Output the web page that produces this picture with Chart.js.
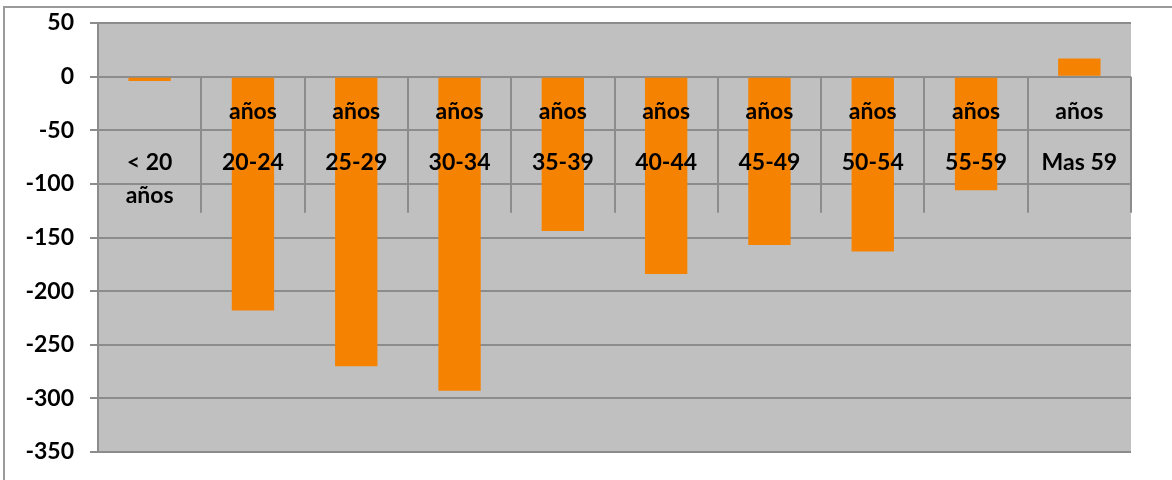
<!DOCTYPE html>
<html>
<head>
<meta charset="utf-8">
<script src="https://cdn.jsdelivr.net/npm/chart.js@4"></script>
<style>
  html, body { margin: 0; padding: 0; background: #fff; }
  #wrap { width: 1172px; height: 480px; position: relative; }
</style>
</head>
<body>
<div id="wrap"><canvas id="chart" width="1172" height="480"></canvas></div>
<script>
// datos
const ranges = ["< 20", "20-24", "25-29", "30-34", "35-39", "40-44", "45-49", "50-54", "55-59", "Mas 59"];
const suffix = "años";
const values = [-4, -218, -270, -293, -144, -184, -157, -163, -106, 17];
const yTicks = [50, 0, -50, -100, -150, -200, -250, -300, -350];

const gridColor = "#8c8c8c";
const font = "bold 23px Lato, 'Open Sans', sans-serif";

// fondo gris del área de trazado + borde exterior
const areaPlugin = {
  id: "area",
  beforeDraw(chart) {
    const { ctx, chartArea: a } = chart;
    ctx.save();
    ctx.fillStyle = "#c0c0c0";
    ctx.fillRect(a.left, a.top, a.right - a.left, a.bottom - a.top);
    ctx.strokeStyle = "#9a9a9a";
    ctx.lineWidth = 2;
    ctx.strokeRect(4, 7, 1172, 490);
    ctx.restore();
  }
};

// marcas de categoría y etiquetas sobre la línea del cero
const catPlugin = {
  id: "cats",
  afterDatasetsDraw(chart) {
    const { ctx } = chart;
    const x = chart.scales.x, y = chart.scales.y;
    const y0 = y.getPixelForValue(0);
    const step = x.getPixelForValue(1) - x.getPixelForValue(0);
    ctx.save();
    ctx.strokeStyle = gridColor;
    ctx.lineWidth = 2;
    for (let i = 0; i <= ranges.length; i++) {
      const px = Math.round(x.getPixelForValue(i) - step / 2);
      ctx.beginPath();
      ctx.moveTo(px, y0);
      ctx.lineTo(px, y0 + 136);
      ctx.stroke();
    }
    ctx.fillStyle = "#000";
    ctx.font = font;
    ctx.textAlign = "center";
    ctx.textBaseline = "middle";
    ranges.forEach((r, i) => {
      const px = x.getPixelForValue(i);
      ctx.fillText(r, px, y0 + 86);
      ctx.fillText(suffix, px, i === 0 ? y0 + 119 : y0 + 35);
    });
    ctx.restore();
  }
};

new Chart(document.getElementById("chart"), {
  type: "bar",
  data: {
    labels: ranges,
    datasets: [{
      data: values,
      backgroundColor: "#f58200",
      barPercentage: 0.41,
      categoryPercentage: 1.0
    }]
  },
  options: {
    responsive: false,
    animation: false,
    layout: { padding: { top: 23, bottom: 28, left: 0, right: 41 } },
    plugins: { legend: { display: false }, tooltip: { enabled: false } },
    scales: {
      x: { display: false },
      y: {
        min: -350,
        max: 50,
        afterFit(scale) {
          scale.width = 98;
          scale.paddingTop = 0;
          scale.paddingBottom = 0;
        },
        afterBuildTicks(scale) { scale.ticks = yTicks.map(v => ({ value: v })); },
        grid: { color: gridColor, lineWidth: 2, tickLength: 8 },
        border: { color: gridColor, width: 2 },
        ticks: {
          color: "#000",
          padding: 16,
          font: { family: "Lato, 'Open Sans', sans-serif", size: 23, weight: "bold" }
        }
      }
    }
  },
  plugins: [areaPlugin, catPlugin]
});
</script>
</body>
</html>
